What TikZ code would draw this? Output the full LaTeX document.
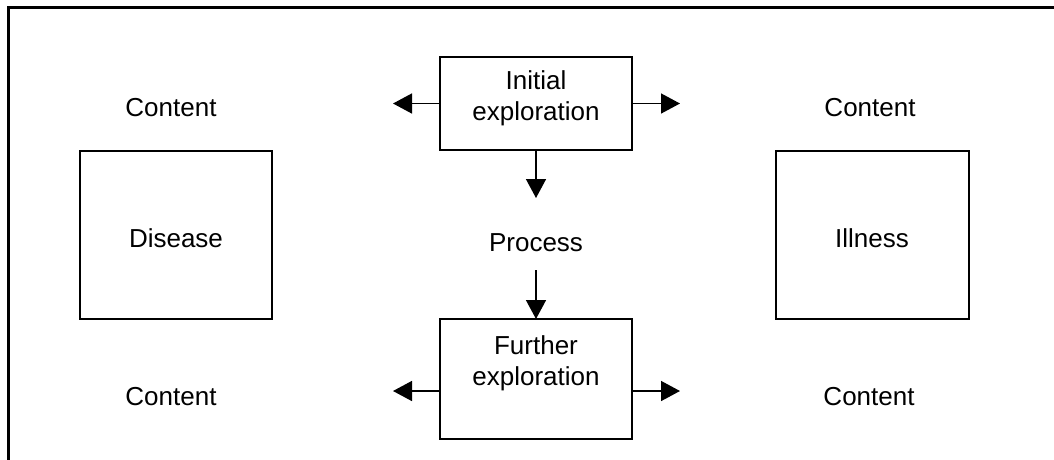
\documentclass[tikz,border=0pt]{standalone}
\usepackage{fontspec}
\setmainfont{Liberation Sans}
\usetikzlibrary{arrows.meta}
\begin{document}
\begin{tikzpicture}[x=1pt,y=-1pt,
  every node/.style={font=\fontsize{26}{31}\selectfont, inner sep=0pt, outer sep=0pt},
  box/.style={draw, line width=1.5pt, minimum width=#1, anchor=north west},
  txt/.style={anchor=base, align=center},
  arr/.style={line width=1.5pt, -{Triangle[length=19pt,width=20pt]}},
  frameline/.style={line width=3pt}]
  \useasboundingbox (0,0) rectangle (1054,459);
  % outer frame (open at right and bottom)
  \draw[frameline] (8,470) -- (8,7) -- (1070,7);

  % side boxes
  \node[box=192pt, minimum height=168pt] (disease) at (80,151) {};
  \node[txt] (distxt) at (176,247) {Disease};
  \node[box=193pt, minimum height=168pt] (illness) at (776,151) {};
  \node[txt] (illtxt) at (872,247) {Illness};

  % central boxes
  \node[box=192pt, minimum height=93pt] (ie) at (440,57) {};
  \node[anchor=north, align=center] (ietxt) at (536,71) {Initial\\exploration};
  \node[box=192pt, minimum height=120pt] (fe) at (440,319) {};
  \node[anchor=north, align=center] (fetxt) at (536,336) {Further\\exploration};

  % labels
  \node[txt] (c1) at (171,116) {Content};
  \node[txt] (c2) at (870,116) {Content};
  \node[txt] (c3) at (171,405) {Content};
  \node[txt] (c4) at (869,405) {Content};
  \node[txt] (proc) at (536,251) {Process};

  % arrow endpoints
  \coordinate (ieL) at (393,103.5);
  \coordinate (ieR) at (680,103.5);
  \coordinate (ieD) at (536,198);
  \coordinate (prD) at (536,270);
  \coordinate (feL0) at (440,391);
  \coordinate (feR0) at (632,391);
  \coordinate (feL) at (393,391);
  \coordinate (feR) at (680,391);

  \draw[arr] (ie.west) -- (ieL);
  \draw[arr] (ie.east) -- (ieR);
  \draw[arr] (ie.south) -- (ieD);
  \draw[arr] (prD) -- (fe.north);
  \draw[arr] (feL0) -- (feL);
  \draw[arr] (feR0) -- (feR);
\end{tikzpicture}
\end{document}
